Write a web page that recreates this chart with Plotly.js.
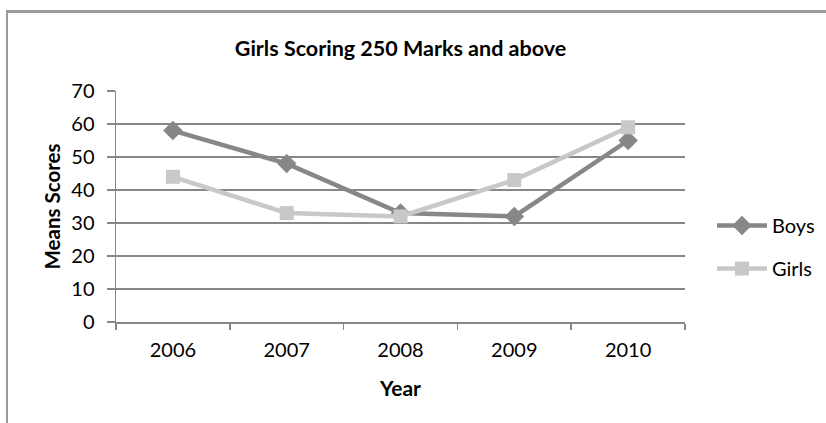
<!DOCTYPE html>
<html>
<head>
<meta charset="utf-8">
<script src="https://cdn.plot.ly/plotly-3.0.1.min.js"></script>
<style>
  html, body { margin: 0; padding: 0; background: #ffffff; overflow: hidden; }
  #wrap { position: relative; width: 826px; height: 423px; overflow: hidden; }
  #frame { position: absolute; left: 6px; top: 10px; width: 900px; height: 500px;
           border-left: 2px solid #999999; border-top: 3px solid #9a9a9a; box-sizing: border-box; z-index: 2; pointer-events: none; }
  #chart { position: absolute; left: 0; top: 0; width: 826px; height: 423px; z-index: 1; }
</style>
</head>
<body>
<div id="wrap">
  <div id="chart"></div>
  <div id="frame"></div>
</div>
<script>
const years = ["2006", "2007", "2008", "2009", "2010"];
const boys = [58, 48, 33, 32, 55];
const girls = [44, 33, 32, 43, 59];
const yTicks = [0, 10, 20, 30, 40, 50, 60, 70];

const fontFamily = "Lato, 'Noto Sans', sans-serif";
const boysColor = "#878787";
const girlsColor = "#c8c8c8";
const gridColor = "#878787";

const traces = [
  {
    x: years, y: boys, name: "Boys", type: "scatter", mode: "lines+markers",
    line: { color: boysColor, width: 4.5 },
    marker: { symbol: "diamond", size: 15, color: boysColor },
    legendgroup: "b"
  },
  {
    x: years, y: girls, name: "Girls", type: "scatter", mode: "lines+markers",
    line: { color: girlsColor, width: 4.5 },
    marker: { symbol: "square", size: 14, color: girlsColor },
    legendgroup: "g"
  }
];

const layout = {
  width: 826, height: 423,
  margin: { l: 116, r: 141, t: 91, b: 101 },
  paper_bgcolor: "#ffffff", plot_bgcolor: "#ffffff",
  font: { family: fontFamily, size: 20, color: "#000000" },
  title: {
    text: "<b>Girls Scoring 250 Marks and above</b>",
    font: { family: fontFamily, size: 21.5, color: "#000000" },
    x: 0.5, xref: "paper", xanchor: "center",
    y: 1 - 48 / 423, yref: "container", yanchor: "middle"
  },
  xaxis: {
    type: "category",
    range: [-0.5, 4.5],
    tickson: "boundaries",
    ticks: "outside", ticklen: 6, tickcolor: gridColor, tickwidth: 1.5,
    showline: true, linecolor: gridColor, linewidth: 1.5,
    showgrid: false, zeroline: false,
    ticklabelstandoff: 9,
    tickfont: { family: fontFamily, size: 20, color: "#000000" },
    title: { text: "<b>Year</b>", font: { family: fontFamily, size: 21, color: "#000000" }, standoff: 22 },
    automargin: false,
    fixedrange: true
  },
  yaxis: {
    range: [0, 70],
    tickvals: yTicks,
    ticks: "outside", ticklen: 8, tickcolor: gridColor, tickwidth: 1.5,
    showline: true, linecolor: gridColor, linewidth: 1.5,
    showgrid: true, gridcolor: gridColor, gridwidth: 1.5,
    zeroline: false,
    ticklabelstandoff: 8,
    tickfont: { family: fontFamily, size: 20, color: "#000000" },
    title: { text: "<b>Means Scores</b>", font: { family: fontFamily, size: 20.5, color: "#000000" }, standoff: 5 },
    automargin: false,
    fixedrange: true
  },
  showlegend: true,
  legend: {
    xref: "container", yref: "container",
    x: 712 / 826, y: 1 - 206 / 423,
    xanchor: "left", yanchor: "top",
    font: { family: fontFamily, size: 20, color: "#000000" },
    traceorder: "grouped",
    tracegroupgap: 14,
    itemwidth: 50,
    bgcolor: "rgba(0,0,0,0)"
  }
};

Plotly.newPlot("chart", traces, layout, { displayModeBar: false, staticPlot: true });
</script>
</body>
</html>
